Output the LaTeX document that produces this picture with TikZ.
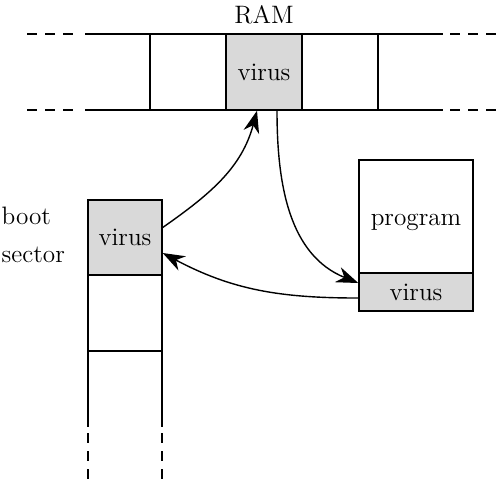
\documentclass[tikz,border=0pt]{standalone}
\usetikzlibrary{arrows.meta}
\tikzset{
  cell/.style={shape=rectangle, draw=black, inner sep=0pt},
  infected/.style={cell, fill=black!15},
  gap/.style={dash pattern=on 5pt off 4pt},
  spread/.style={-{Stealth[length=11pt, width=8pt, inset=3.5pt]}, line width=0.7pt}
}
\begin{document}
\begin{tikzpicture}[x=0.5pt, y=0.5pt, line width=0.7pt, font=\fontsize{12.6}{19}\selectfont]
\useasboundingbox (0,0) rectangle (501,-484);
% memory band
\node (ramlabel) at (264,-15) {RAM};
\draw (85,-34) -- (443,-34);
\draw (85,-110) -- (443,-110);
\draw[gap] (27,-34) -- (80,-34);
\draw[gap] (27,-110) -- (80,-110);
\draw[gap] (450,-34) -- (501,-34);
\draw[gap] (450,-110) -- (501,-110);
\node[cell, minimum width=38pt, minimum height=38pt] (ram1) at (188,-72) {};
\node[infected, minimum width=38pt, minimum height=38pt] (ramv) at (264,-72) {virus};
\node[cell, minimum width=38pt, minimum height=38pt] (ram3) at (340,-72) {};
% boot sector
\node[anchor=west, align=left, inner sep=0pt] (bootlabel) at (1,-235) {boot\\sector};
\node[infected, minimum width=37pt, minimum height=37.5pt] (bootv) at (125,-237.5) {virus};
\node[cell, minimum width=37pt, minimum height=38pt] (boot2) at (125,-313) {};
\draw (88,-351) -- (162,-351);
\draw (88,-351) -- (88,-427);
\draw (162,-351) -- (162,-427);
\draw[gap] (88,-433) -- (88,-484);
\draw[gap] (162,-433) -- (162,-484);
% program file
\node[cell, minimum width=57pt, minimum height=56.5pt, label={[yshift=-3pt]center:program}] (prog) at (416,-216.5) {};
\node[infected, minimum width=57pt, minimum height=19pt] (progv) at (416,-292) {virus};
% infection path
\path [spread] ([yshift=5pt]bootv.east) edge[out=35, in=-105] ([xshift=-3.5pt]ramv.south);
\path [spread] ([xshift=6.5pt]ramv.south) edge[out=-90, in=158] ([yshift=4.5pt]progv.west);
\path [spread] ([yshift=-3pt]progv.west) edge[out=180, in=-28] ([yshift=-7.75pt]bootv.east);
\end{tikzpicture}
\end{document}
